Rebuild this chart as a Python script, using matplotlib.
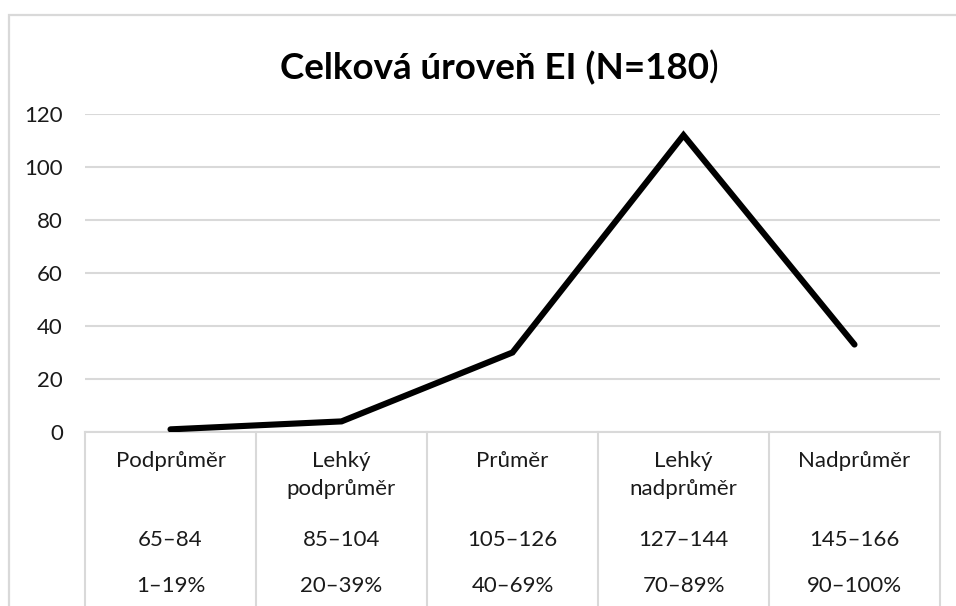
import matplotlib.pyplot as plt
from matplotlib.patches import Rectangle
from matplotlib.lines import Line2D

plt.rcParams['font.family'] = ['Lato', 'DejaVu Sans']

categories = ["Podprůměr", "Lehký\npodprůměr", "Průměr", "Lehký\nnadprůměr", "Nadprůměr"]
score_ranges = ["65–84", "85–104", "105–126", "127–144", "145–166"]
percentiles = ["1–19%", "20–39%", "40–69%", "70–89%", "90–100%"]
counts = [1, 4, 30, 112, 33]
title = "Celková úroveň EI (N=180"

grid_col = "#d9d9d9"
text_col = "#1a1a1a"

fig = plt.figure(figsize=(9.56, 6.06), dpi=100)
W, H = 956, 606

# outer chart frame (cropped on the right and bottom)
fig.patches.append(Rectangle((8.5 / W, -0.05), 1.1, (606 - 14.5) / H + 0.05,
                             transform=fig.transFigure, fill=False,
                             edgecolor=grid_col, linewidth=1.6))

ax = fig.add_axes([85 / W, (H - 432) / H, 855 / W, 318 / H])
x = range(len(counts))
ax.plot(x, counts, color="black", linewidth=4.4, solid_capstyle="round",
        solid_joinstyle="miter", zorder=3)
ax.set_xlim(-0.5, len(counts) - 0.5)
ax.set_ylim(0, 120)
ax.set_yticks(range(0, 121, 20))
ax.yaxis.grid(True, color=grid_col, linewidth=1.5)
ax.set_axisbelow(True)
ax.set_xticks([])
ax.tick_params(axis="y", length=0, pad=16, labelsize=16, labelcolor=text_col)
for s in ["top", "right", "left"]:
    ax.spines[s].set_visible(False)
ax.spines["bottom"].set_color(grid_col)
ax.spines["bottom"].set_linewidth(1.5)

# category table under the axis
tr = ax.get_xaxis_transform()
for b in [i - 0.5 for i in range(len(counts) + 1)]:
    ax.add_line(Line2D([b, b], [0, -0.6], transform=tr, color=grid_col,
                       linewidth=1.5, clip_on=False))

def y_of(px):
    return (432 - px) / 318

for i, (c, r, p) in enumerate(zip(categories, score_ranges, percentiles)):
    ax.text(i, y_of(451), c, transform=tr, ha="center", va="top",
            fontsize=16, color=text_col, linespacing=1.5)
    ax.text(i, y_of(540), r, transform=tr, ha="center", va="center",
            fontsize=16, color=text_col)
    ax.text(i, y_of(586), p, transform=tr, ha="center", va="center",
            fontsize=16, color=text_col)

t = fig.text(280 / W, (H - 68) / H, title, ha="left", va="center",
             fontsize=26.5, fontweight="bold", color="black")
fig.canvas.draw()
bb = t.get_window_extent()
fig.text(bb.x1 / W, (H - 68) / H, ")", ha="left", va="center",
         fontsize=26.5, color="black")

fig.savefig("out.png", dpi=100)
